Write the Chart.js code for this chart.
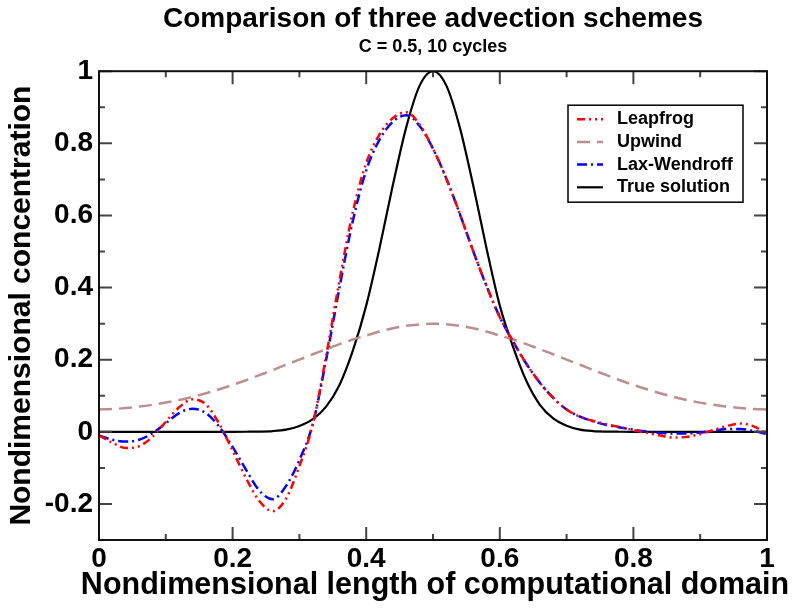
<!DOCTYPE html>
<html lang="en">
<head>
    <meta charset="UTF-8">
    <title>Comparison of three advection schemes</title>
    <script src="https://cdn.jsdelivr.net/npm/chart.js"></script>
    <style>
        body { margin: 0; background: #fff; }
        .chart-container { position: relative; width: 792px; height: 609px; }
    </style>
</head>
<body>
    <div class="chart-container">
        <canvas id="grafico" width="792" height="609"></canvas>
    </div>

    <script>
        // Grid points along the domain
        const positions = [0, 0.02, 0.04, 0.06, 0.08, 0.1, 0.12, 0.14, 0.16, 0.18,
            0.2, 0.22, 0.24, 0.26, 0.28, 0.3, 0.32, 0.34, 0.36, 0.38,
            0.4, 0.42, 0.44, 0.46, 0.48, 0.5, 0.52, 0.54, 0.56, 0.58,
            0.6, 0.62, 0.64, 0.66, 0.68, 0.7, 0.72, 0.74, 0.76, 0.78,
            0.8, 0.82, 0.84, 0.86, 0.88, 0.9, 0.92, 0.94, 0.96, 0.98, 1];

        const leapfrog = [-0.010, -0.030, -0.045, -0.040, -0.014, 0.028, 0.068, 0.090, 0.076, 0.022,
            -0.052, -0.128, -0.192, -0.220, -0.185, -0.095, 0.020, 0.210, 0.420, 0.610,
            0.745, 0.825, 0.870, 0.886, 0.852, 0.785, 0.702, 0.605, 0.502, 0.405,
            0.318, 0.250, 0.188, 0.136, 0.094, 0.062, 0.042, 0.030, 0.021, 0.013,
            0.005, -0.003, -0.010, -0.016, -0.014, -0.006, 0.005, 0.016, 0.023, 0.015, -0.005];

        const upwind = [0.062, 0.063, 0.066, 0.070, 0.075, 0.081, 0.088, 0.097, 0.107, 0.118,
            0.130, 0.143, 0.157, 0.171, 0.186, 0.200, 0.215, 0.229, 0.243, 0.256,
            0.267, 0.278, 0.287, 0.294, 0.298, 0.300, 0.298, 0.294, 0.287, 0.278,
            0.267, 0.256, 0.243, 0.229, 0.215, 0.200, 0.186, 0.171, 0.157, 0.143,
            0.130, 0.118, 0.107, 0.097, 0.088, 0.081, 0.075, 0.070, 0.066, 0.063, 0.062];

        const laxWendroff = [-0.010, -0.022, -0.027, -0.022, -0.004, 0.024, 0.052, 0.064, 0.052, 0.014,
            -0.042, -0.105, -0.163, -0.187, -0.150, -0.078, 0.022, 0.200, 0.400, 0.585,
            0.725, 0.810, 0.860, 0.878, 0.848, 0.785, 0.702, 0.605, 0.502, 0.405,
            0.318, 0.250, 0.188, 0.136, 0.094, 0.062, 0.042, 0.029, 0.019, 0.012,
            0.006, 0.001, -0.003, -0.005, -0.005, -0.002, 0.003, 0.008, 0.008, 0.002, -0.006];

        const trueSolution = [0, 0, 0, 0, 0, 0, 0, 0, 0, 0,
            0, 0.0002, 0.0006, 0.002, 0.006, 0.016, 0.035, 0.070, 0.130, 0.225,
            0.350, 0.510, 0.685, 0.845, 0.960, 1.000, 0.960, 0.845, 0.685, 0.510,
            0.350, 0.235, 0.140, 0.075, 0.037, 0.017, 0.006, 0.002, 0.0006, 0.0002,
            0, 0, 0, 0, 0, 0, 0, 0, 0, 0, 0];

        const xTicks = [0, 0.2, 0.4, 0.6, 0.8, 1];
        const xTickLabels = ['0', '0.2', '0.4', '0.6', '0.8', '1'];
        const yTicks = [-0.2, 0, 0.2, 0.4, 0.6, 0.8, 1];
        const yTickLabels = ['-0.2', '0', '0.2', '0.4', '0.6', '0.8', '1'];
        const xAxisTitle = 'Nondimensional length of computational domain';

        const FONT = '"Liberation Sans", Arial, Helvetica, sans-serif';

        function puntos(valores) {
            return positions.map((x, i) => ({ x: x, y: valores[i] }));
        }

        // frame plus inward major/minor tick marks on all four sides
        const marco = {
            id: 'marco',
            afterDatasetsDraw(chart) {
                const { ctx, chartArea: a, scales: { x, y } } = chart;
                ctx.save();
                ctx.strokeStyle = '#444';
                ctx.lineWidth = 2;
                ctx.beginPath();
                for (let k = 0; k <= 10; k++) {
                    const px = x.getPixelForValue(k / 10);
                    const len = k % 2 === 0 ? 13 : 6;
                    ctx.moveTo(px, a.bottom); ctx.lineTo(px, a.bottom - len);
                    ctx.moveTo(px, a.top); ctx.lineTo(px, a.top + len);
                }
                for (let k = -3; k <= 10; k++) {
                    const py = y.getPixelForValue(k / 10);
                    const len = Math.abs(k) % 2 === 0 ? 13 : 6;
                    ctx.moveTo(a.left, py); ctx.lineTo(a.left + len, py);
                    ctx.moveTo(a.right, py); ctx.lineTo(a.right - len, py);
                }
                ctx.stroke();
                ctx.strokeStyle = '#111';
                ctx.strokeRect(a.left, a.top, a.right - a.left, a.bottom - a.top);
                ctx.restore();
            }
        };

        // x axis title, drawn wider than the axis itself
        const tituloX = {
            id: 'tituloX',
            afterDraw(chart) {
                const { ctx, chartArea: a } = chart;
                ctx.save();
                ctx.font = 'bold 30.5px ' + FONT;
                ctx.fillStyle = '#000';
                ctx.textAlign = 'center';
                ctx.textBaseline = 'middle';
                ctx.fillText(xAxisTitle, (a.left + a.right) / 2 + 2, a.bottom + 46);
                ctx.restore();
            }
        };

        // boxed legend in the upper right of the plot
        const leyenda = {
            id: 'leyenda',
            afterDatasetsDraw(chart) {
                const { ctx, chartArea: a } = chart;
                const left = a.right - 199, top = a.top + 34, w = 175, h = 97;
                ctx.save();
                ctx.fillStyle = '#fff';
                ctx.fillRect(left, top, w, h);
                ctx.lineWidth = 1.5;
                ctx.strokeStyle = '#000';
                ctx.strokeRect(left, top, w, h);
                ctx.font = 'bold 18px ' + FONT;
                ctx.textBaseline = 'middle';
                chart.data.datasets.forEach((ds, i) => {
                    const yy = top + 14 + i * 22.7;
                    ctx.beginPath();
                    ctx.setLineDash(ds.borderDash || []);
                    ctx.strokeStyle = ds.borderColor;
                    ctx.lineWidth = ds.borderWidth;
                    ctx.moveTo(left + 9, yy);
                    ctx.lineTo(left + 35, yy);
                    ctx.stroke();
                    ctx.setLineDash([]);
                    ctx.fillStyle = '#000';
                    ctx.fillText(ds.label, left + 49, yy);
                });
                ctx.restore();
            }
        };

        const comun = { pointRadius: 0, fill: false, cubicInterpolationMode: 'monotone' };

        new Chart(document.getElementById('grafico'), {
            type: 'line',
            data: {
                datasets: [
                    { ...comun, label: 'Leapfrog', data: puntos(leapfrog), borderColor: '#ff0000', borderWidth: 2.5, borderDash: [8, 4, 2, 4, 2, 4] },
                    { ...comun, label: 'Upwind', data: puntos(upwind), borderColor: '#bc8f8f', borderWidth: 2.5, borderDash: [13, 7] },
                    { ...comun, label: 'Lax-Wendroff', data: puntos(laxWendroff), borderColor: '#0000ff', borderWidth: 2.5, borderDash: [10, 4, 2, 4] },
                    { ...comun, label: 'True solution', data: puntos(trueSolution), borderColor: '#000000', borderWidth: 2.2 }
                ]
            },
            options: {
                responsive: false,
                animation: false,
                devicePixelRatio: 1,
                layout: { padding: { top: 0, right: 25, left: 0, bottom: 0 } },
                plugins: {
                    legend: { display: false },
                    tooltip: { enabled: false },
                    title: {
                        display: true,
                        fullSize: false,
                        text: 'Comparison of three advection schemes',
                        color: '#000',
                        font: { family: FONT, size: 28, weight: 'bold' },
                        padding: { top: 2, bottom: 0 }
                    },
                    subtitle: {
                        display: true,
                        fullSize: false,
                        text: 'C = 0.5, 10 cycles',
                        color: '#000',
                        font: { family: FONT, size: 18, weight: 'bold' },
                        padding: { top: 1, bottom: 13 }
                    }
                },
                scales: {
                    x: {
                        type: 'linear',
                        min: 0,
                        max: 1,
                        afterBuildTicks: s => { s.ticks = xTicks.map(v => ({ value: v })); },
                        afterFit: s => { s.height = 69; },
                        ticks: {
                            callback: (v, i) => xTickLabels[i],
                            color: '#000',
                            font: { family: FONT, size: 28, weight: 'bold' },
                            padding: 2,
                            maxRotation: 0,
                            autoSkip: false
                        },
                        grid: { display: false, drawTicks: false },
                        border: { display: false }
                    },
                    y: {
                        min: -0.3,
                        max: 1,
                        afterBuildTicks: s => { s.ticks = yTicks.map(v => ({ value: v })); },
                        afterFit: s => { s.width = 99; },
                        ticks: {
                            callback: (v, i) => yTickLabels[i],
                            color: '#000',
                            font: { family: FONT, size: 28, weight: 'bold' },
                            padding: 6,
                            autoSkip: false
                        },
                        grid: { display: false, drawTicks: false },
                        border: { display: false },
                        title: {
                            display: true,
                            text: 'Nondimensional concentration',
                            color: '#000',
                            font: { family: FONT, size: 30, weight: 'bold' },
                            padding: { top: 4, bottom: 0 }
                        }
                    }
                }
            },
            plugins: [marco, leyenda, tituloX]
        });
    </script>
</body>
</html>
